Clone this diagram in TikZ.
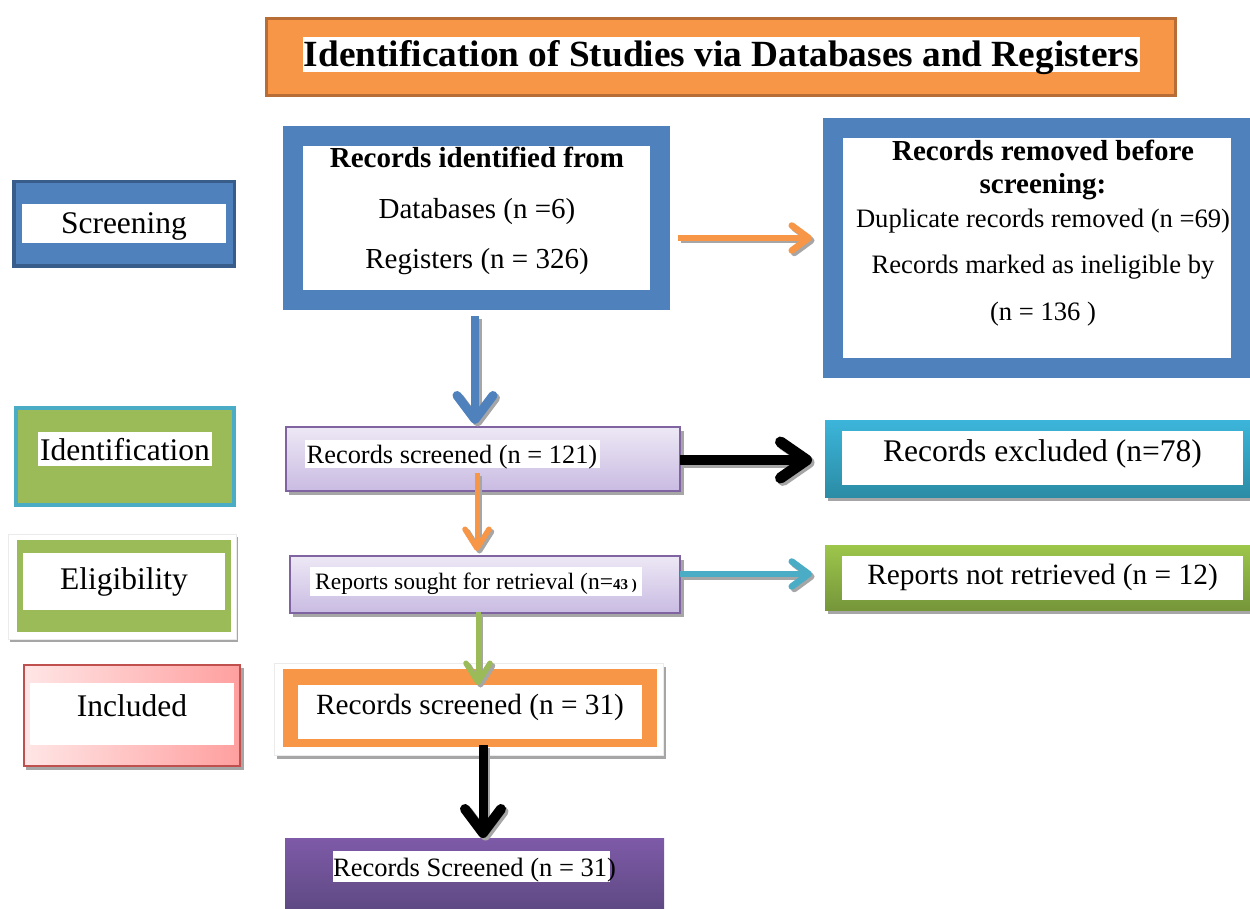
\documentclass[tikz,border=0pt]{standalone}
\usepackage{fontspec}
\setmainfont{Liberation Serif}
\usepackage{graphicx}
\usetikzlibrary{arrows.meta,calc}
\definecolor{blueA}{HTML}{4F81BD}
\definecolor{blueDark}{HTML}{385D8A}
\definecolor{orangeA}{HTML}{F79646}
\definecolor{orangeDark}{HTML}{B86D36}
\definecolor{greenA}{HTML}{9BBB59}
\definecolor{cyanA}{HTML}{4BACC6}
\definecolor{purpleA}{HTML}{8064A2}
\definecolor{redA}{HTML}{C0504D}
\definecolor{shadowgray}{HTML}{A6A6A6}
\definecolor{lavT}{HTML}{EDE8F5}
\definecolor{lavB}{HTML}{C9BBE2}
\definecolor{cyT}{HTML}{3CB5DA}
\definecolor{cyB}{HTML}{2B8CA5}
\definecolor{grT}{HTML}{9DC64B}
\definecolor{grB}{HTML}{76963A}
\definecolor{puT}{HTML}{7E5AA8}
\definecolor{puB}{HTML}{5F4A84}
\definecolor{pkL}{HTML}{FFE6E6}
\definecolor{pkR}{HTML}{FF9F9F}
\newcommand\fsz[1]{\fontsize{#1}{#1}\selectfont}
\begin{document}
\begin{tikzpicture}[x=1pt,y=-1pt,
  box/.style={rectangle, inner sep=0pt, outer sep=0pt},
  lbl/.style={inner sep=0pt, outer sep=0pt, anchor=base},
  arrsh/.style={draw=shadowgray, transform canvas={xshift=2.5pt,yshift=-2.5pt}},
  tipA/.style={-{Straight Barb[round,length=24pt,width=36pt,line width=9pt]}},
  tipB/.style={-{Straight Barb[round,length=17pt,width=25pt,line width=6.5pt]}},
  tipC/.style={-{Straight Barb[round,length=26pt,width=36pt,line width=11pt]}},
  tipD/.style={-{Straight Barb[round,length=19pt,width=24pt,line width=5.5pt]}},
  tipE/.style={-{Straight Barb[round,length=24pt,width=36pt,line width=10pt]}},
]
\useasboundingbox (0,0) rectangle (1250,909);
\fill[white] (0,0) rectangle (1250,909);

% ---------- title ----------
\node[box, fill=orangeA, draw=orangeDark, line width=3pt, minimum width=909pt, minimum height=77pt] (title) at (721,57) {};
\fill[white] (303,37) rectangle (1140,72);
\node[lbl] (titlet) at (721.5,67) {\resizebox{835pt}{26pt}{\bfseries Identification of Studies via Databases and Registers}};

% ---------- stage labels ----------
\node[box, fill=blueA, draw=blueDark, line width=3.5pt, minimum width=220.5pt, minimum height=84.5pt] (screening) at (124,224) {};
\fill[white] (22,204) rectangle (226,243);
\node[lbl, font=\fsz{31.5}] (screeningt) at (124,234) {Screening};

\node[box, fill=greenA, draw=cyanA, line width=4pt, minimum width=218pt, minimum height=97pt] (ident) at (125,456.5) {};
\fill[white] (38,432) rectangle (212,466);
\node[lbl, font=\fsz{31.5}] (identt) at (125,460) {Identification};

\fill[shadowgray] (10,537) rectangle (238,642);
\filldraw[draw=black!8, fill=white] (8,534) rectangle (236,639);
\node[box, fill=greenA, minimum width=214pt, minimum height=92pt] (elig) at (124,586) {};
\fill[white] (23,553) rectangle (225,610);
\node[lbl, font=\fsz{31.5}] (eligt) at (124,589) {Eligibility};

\fill[shadowgray] (26,668) rectangle (244,770);
\node[box, left color=pkL, right color=pkR, draw=redA, line width=2pt, minimum width=216pt, minimum height=101pt] (incl) at (132,715.5) {};
\fill[white] (30,683) rectangle (234,745);
\node[lbl, font=\fsz{31.5}] (inclt) at (132,716) {Included};

% ---------- centre column ----------
\node[box, draw=blueA, fill=white, line width=20pt, minimum width=367pt, minimum height=164pt] (rid) at (476.5,218) {};
\node[lbl, font=\fsz{29}\bfseries] (rid1) at (477,168) {Records identified from};
\node[lbl, font=\fsz{29}] (rid2) at (477,219) {Databases (n =6)};
\node[lbl, font=\fsz{29}] (rid3) at (477,269) {Registers (n = 326)};

\fill[shadowgray] (289,431) rectangle (684,495);
\node[box, top color=lavT, bottom color=lavB, draw=purpleA, line width=1.5pt, minimum width=394pt, minimum height=64pt] (scr) at (483,459) {};
\fill[white] (305,440) rectangle (600,468);
\node[lbl, font=\fsz{26.4}] (scrt) at (452,463) {Records screened (n = 121)};

\fill[shadowgray] (293,560) rectangle (684,617);
\node[box, top color=lavT, bottom color=lavB, draw=purpleA, line width=1.5pt, minimum width=390pt, minimum height=57pt] (rsr) at (485,584.5) {};
\fill[white] (310,567) rectangle (642,596);
\node[lbl, font=\fsz{23.5}] (rsrt) at (476,589) {Reports sought for retrieval (n={\fsz{15}\bfseries 43 )}};

\fill[shadowgray] (277,667) rectangle (666,759);
\filldraw[draw=black!8, fill=white] (274,663) rectangle (663,755);
\node[box, fill=orangeA, minimum width=374pt, minimum height=78pt] (rs31) at (470,708) {};
\fill[white] (298,685) rectangle (642,739);
\node[lbl, font=\fsz{29.3}] (rs31t) at (470,714) {Records screened (n = 31)};

\node[box, top color=puT, bottom color=puB, minimum width=379pt, minimum height=70pt] (rs31b) at (474.5,873) {};
\fill[white] (333,851) rectangle (610,882);
\node[lbl, font=\fsz{26.5}] (rs31bt) at (474.5,876) {Records Screened (n = 31)};

% ---------- right column ----------
\node[box, draw=blueA, fill=white, line width=20pt, minimum width=408pt, minimum height=240pt] (rrm) at (1037,248) {};
\node[lbl, font=\fsz{29}\bfseries] (rrm1) at (1043,161) {Records removed before};
\node[lbl, font=\fsz{29}\bfseries] (rrm2) at (1043,194) {screening:};
\node[lbl, font=\fsz{26.6}] (rrm3) at (1043,228) {Duplicate records removed (n =69)};
\node[lbl, font=\fsz{26.6}] (rrm4) at (1043,274) {Records marked as ineligible by};
\node[lbl, font=\fsz{26.6}] (rrm5) at (1043,320) {(n = 136 )};

\fill[shadowgray] (828,424) rectangle (1253,501);
\node[box, top color=cyT, bottom color=cyB, minimum width=425pt, minimum height=77pt] (rex) at (1037.5,458.5) {};
\fill[white] (842,431) rectangle (1243,485);
\node[lbl, font=\fsz{31.5}] (rext) at (1042.5,461) {Records excluded (n=78)};

\fill[shadowgray] (828,549) rectangle (1253,614);
\node[box, top color=grT, bottom color=grB, minimum width=425pt, minimum height=65pt] (rnr) at (1037.5,577.5) {};
\fill[white] (842,556) rectangle (1243,600);
\node[lbl, font=\fsz{29.4}] (rnrt) at (1042.5,584) {Reports not retrieved (n = 12)};

% ---------- connectors ----------
% blue down
\draw[arrsh, line width=8pt, tipA] ($(rid.south)+(-1.5,16)$) -- ($(rid.south |- scr.north)+(-1.5,-3)$);
\draw[blueA, line width=8pt, tipA] ($(rid.south)+(-1.5,16)$) -- ($(rid.south |- scr.north)+(-1.5,-3)$);
% orange right
\draw[arrsh, line width=6pt, tipB] ($(rid.east)+(18,20)$) -- ($(rrm.west)+(-21,-10)$);
\draw[orangeA, line width=6pt, tipB] ($(rid.east)+(18,20)$) -- ($(rrm.west)+(-21,-10)$);
% black right
\draw[arrsh, line width=10pt, tipC] ($(scr.east)+(0,1)$) -- ($(rex.west)+(-13,1.5)$);
\draw[black, line width=10pt, tipC] ($(scr.east)+(0,1)$) -- ($(rex.west)+(-13,1.5)$);
% orange down
\draw[arrsh, line width=5pt, tipD] ($(scr.south)+(-6,-18)$) -- ($(rsr.north)+(-8,-5)$);
\draw[orangeA, line width=5pt, tipD] ($(scr.south)+(-6,-18)$) -- ($(rsr.north)+(-8,-5)$);
% cyan right
\draw[arrsh, line width=6pt, tipB] ($(rsr.east)+(0,-10.5)$) -- ($(rnr.west)+(-13,-3.5)$);
\draw[cyanA, line width=6pt, tipB] ($(rsr.east)+(0,-10.5)$) -- ($(rnr.west)+(-13,-3.5)$);
% green down
\draw[arrsh, line width=5pt, tipD] ($(rsr.south)+(-7,-1)$) -- ($(rs31.north)+(8,16)$);
\draw[greenA, line width=5pt, tipD] ($(rsr.south)+(-7,-1)$) -- ($(rs31.north)+(8,16)$);
% black down
\draw[arrsh, line width=9pt, tipE] ($(rs31.south)+(13,-2)$) -- ($(rs31b.north)+(8.5,0)$);
\draw[black, line width=9pt, tipE] ($(rs31.south)+(13,-2)$) -- ($(rs31b.north)+(8.5,0)$);
\end{tikzpicture}
\end{document}
